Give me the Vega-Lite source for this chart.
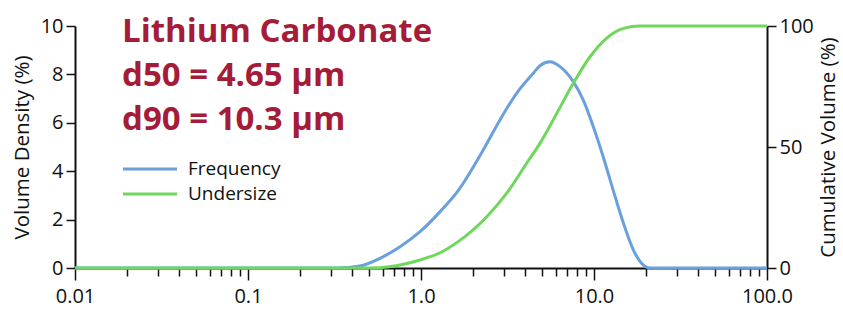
{
  "$schema": "https://vega.github.io/schema/vega-lite/v6.json",
  "width": 692,
  "height": 242,
  "autosize": "none",
  "padding": {"left": 75, "top": 26, "right": 76, "bottom": 44},
  "background": "white",
  "datasets": {
    "freq": [
      {"size": 0.01, "value": 0, "series": "Frequency"},
      {"size": 0.33, "value": 0, "series": "Frequency"},
      {"size": 0.443, "value": 0.08, "series": "Frequency"},
      {"size": 0.579, "value": 0.40, "series": "Frequency"},
      {"size": 0.757, "value": 0.88, "series": "Frequency"},
      {"size": 0.987, "value": 1.50, "series": "Frequency"},
      {"size": 1.29, "value": 2.33, "series": "Frequency"},
      {"size": 1.64, "value": 3.2, "series": "Frequency"},
      {"size": 2.29, "value": 4.88, "series": "Frequency"},
      {"size": 2.86, "value": 6.12, "series": "Frequency"},
      {"size": 3.57, "value": 7.22, "series": "Frequency"},
      {"size": 4.46, "value": 8.05, "series": "Frequency"},
      {"size": 4.87, "value": 8.36, "series": "Frequency"},
      {"size": 5.57, "value": 8.52, "series": "Frequency"},
      {"size": 6.36, "value": 8.32, "series": "Frequency"},
      {"size": 7.59, "value": 7.70, "series": "Frequency"},
      {"size": 8.67, "value": 6.94, "series": "Frequency"},
      {"size": 9.91, "value": 5.84, "series": "Frequency"},
      {"size": 11.3, "value": 4.60, "series": "Frequency"},
      {"size": 12.9, "value": 3.22, "series": "Frequency"},
      {"size": 14.8, "value": 1.85, "series": "Frequency"},
      {"size": 16.9, "value": 0.74, "series": "Frequency"},
      {"size": 19.3, "value": 0.12, "series": "Frequency"},
      {"size": 21.1, "value": 0, "series": "Frequency"},
      {"size": 100, "value": 0, "series": "Frequency"}
    ],
    "under": [
      {"size": 0.01, "value": 0, "series": "Undersize"},
      {"size": 0.45, "value": 0, "series": "Undersize"},
      {"size": 0.579, "value": 0.15, "series": "Undersize"},
      {"size": 0.757, "value": 1.2, "series": "Undersize"},
      {"size": 0.987, "value": 3.3, "series": "Undersize"},
      {"size": 1.29, "value": 6.3, "series": "Undersize"},
      {"size": 1.64, "value": 10.9, "series": "Undersize"},
      {"size": 2.40, "value": 21.2, "series": "Undersize"},
      {"size": 3.13, "value": 30.9, "series": "Undersize"},
      {"size": 4.08, "value": 43.3, "series": "Undersize"},
      {"size": 4.87, "value": 51.5, "series": "Undersize"},
      {"size": 6.09, "value": 63.9, "series": "Undersize"},
      {"size": 7.59, "value": 76.3, "series": "Undersize"},
      {"size": 9.48, "value": 87.3, "series": "Undersize"},
      {"size": 11.8, "value": 94.9, "series": "Undersize"},
      {"size": 14.8, "value": 99.0, "series": "Undersize"},
      {"size": 18.4, "value": 100, "series": "Undersize"},
      {"size": 100, "value": 100, "series": "Undersize"}
    ]
  },
  "config": {
    "view": {"stroke": null},
    "font": "Open Sans",
    "axis": {
      "domainColor": "#111",
      "domainWidth": 2,
      "tickColor": "#111",
      "tickWidth": 1.5,
      "labelColor": "#111",
      "titleColor": "#111",
      "labelFontSize": 20,
      "titleFontSize": 20.5,
      "titleFontWeight": "normal",
      "grid": false,
      "labelFlush": false
    }
  },
  "title": {
    "text": ["Lithium Carbonate", "d50 = 4.65 µm", "d90 = 10.3 µm"],
    "anchor": "start",
    "frame": "group",
    "orient": "top",
    "baseline": "top",
    "fontSize": 33,
    "fontWeight": "bold",
    "color": "#a51c38",
    "lineHeight": 44,
    "dx": 47,
    "dy": 103,
    "offset": -18
  },
  "layer": [
    {
      "data": {"name": "freq"},
      "mark": {"type": "line", "strokeWidth": 3, "interpolate": "monotone"},
      "encoding": {
        "x": {
          "field": "size", "type": "quantitative",
          "scale": {"type": "log", "domain": [0.01, 100], "nice": false},
          "axis": {
            "title": null,
            "values": [0.01,0.02,0.03,0.04,0.05,0.06,0.07,0.08,0.09,0.1,0.2,0.3,0.4,0.5,0.6,0.7,0.8,0.9,1,2,3,4,5,6,7,8,9,10,20,30,40,50,60,70,80,90,100],
            "labelExpr": "datum.value == 0.01 ? '0.01' : datum.value == 0.1 ? '0.1' : datum.value == 1 ? '1.0' : datum.value == 10 ? '10.0' : datum.value == 100 ? '100.0' : ''",
            "labelOverlap": false,
            "tickSize": {"condition": {"test": "indexof([0.01, 0.1, 1, 10, 100], datum.value) >= 0", "value": 12}, "value": 8},
            "labelPadding": 6
          }
        },
        "y": {
          "field": "value", "type": "quantitative",
          "scale": {"domain": [0, 10], "nice": false},
          "axis": {"title": "Volume Density (%)", "values": [0,2,4,6,8,10], "tickSize": 9, "labelPadding": 3, "titlePadding": 8}
        },
        "color": {
          "field": "series", "type": "nominal",
          "scale": {"domain": ["Frequency", "Undersize"], "range": ["#6aa0dc", "#6fd75c"]},
          "legend": {
            "title": null,
            "orient": "none",
            "legendX": 60,
            "legendY": 128,
            "symbolType": "M-2,0H2",
            "symbolSize": 729,
            "symbolStrokeWidth": 3,
            "labelFontSize": 19,
            "labelColor": "#111",
            "labelOffset": 23,
            "rowPadding": -3
          }
        }
      }
    },
    {
      "data": {"name": "under"},
      "mark": {"type": "line", "strokeWidth": 3, "interpolate": "monotone"},
      "encoding": {
        "x": {"field": "size", "type": "quantitative", "scale": {"type": "log", "domain": [0.01, 100], "nice": false}},
        "y": {
          "field": "value", "type": "quantitative",
          "scale": {"domain": [0, 100], "nice": false},
          "axis": {"title": "Cumulative Volume (%)", "titleAngle": -90, "orient": "right", "values": [0, 50, 100], "tickSize": 9, "labelPadding": 3, "titlePadding": 25}
        },
        "color": {"field": "series", "type": "nominal"}
      }
    }
  ],
  "resolve": {"scale": {"y": "independent"}}
}
